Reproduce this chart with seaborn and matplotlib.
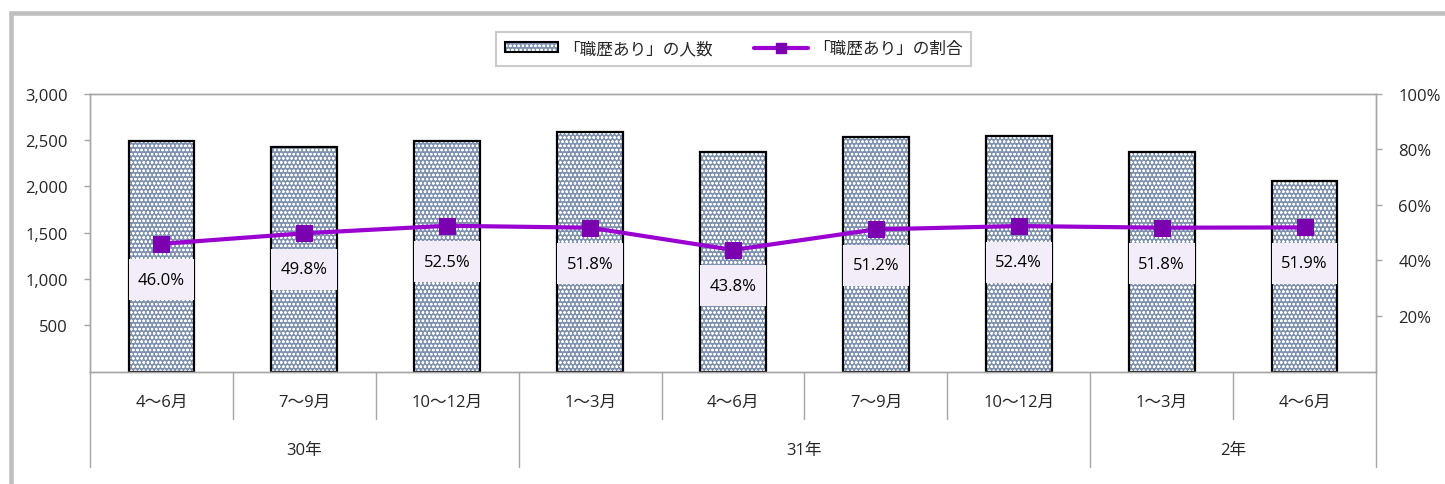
import numpy as np
import pandas as pd
import matplotlib
matplotlib.use('Agg')
import matplotlib.pyplot as plt
import seaborn as sns
from matplotlib.patches import Rectangle, Patch
from matplotlib.lines import Line2D
from matplotlib.legend_handler import HandlerTuple
from matplotlib.ticker import FuncFormatter

# ---- data ----
periods = ['4～6月', '7～9月', '10～12月', '1～3月', '4～6月', '7～9月', '10～12月', '1～3月', '4～6月']
years = ['30年', '31年', '2年']
year_spans = [3, 4, 2]
counts = [2490, 2425, 2487, 2591, 2371, 2537, 2544, 2368, 2055]
ratios = [46.0, 49.8, 52.5, 51.8, 43.8, 51.2, 52.4, 51.8, 51.9]
count_ticks = [500, 1000, 1500, 2000, 2500, 3000]
ratio_ticks = [20, 40, 60, 80, 100]
legend_labels = ['「職歴あり」の人数', '「職歴あり」の割合']

# ---- style ----
sns.set_theme(style='white')
plt.rcParams['font.family'] = ['Open Sans', 'Noto Sans CJK JP', 'DejaVu Sans']
plt.rcParams['hatch.linewidth'] = 0.6

BAR_FACE = '#7e91ae'
HATCH = 'oooo'
LINE_C = '#9a00d0'
MARK_C = '#7a00b0'
GRID_C = '#a6a6a6'
BOX_C = '#f3ecf9'
FS = 12

W, H = 1445, 485
fig = plt.figure(figsize=(W / 100, H / 100), dpi=100)
ax = fig.add_axes([90 / W, 1 - 372.6 / H, (1376 - 90) / W, (372.6 - 94.8) / H])

df = pd.DataFrame({'idx': range(len(counts)), 'count': counts, 'ratio': ratios})

# bars: hatched fill then black outline
sns.barplot(data=df, x='idx', y='count', ax=ax, width=0.46, color=BAR_FACE,
            saturation=1, errorbar=None, hatch=HATCH, edgecolor='white', linewidth=0)
sns.barplot(data=df, x='idx', y='count', ax=ax, width=0.46, color='black',
            fill=False, errorbar=None, linewidth=1.6)

ax.set_xlim(-0.5, len(counts) - 0.5)
ax.set_ylim(0, 3000)
ax.set_yticks(count_ticks)
ax.yaxis.set_major_formatter(FuncFormatter(lambda v, p: f'{int(v):,}'))
ax.set_xticks([])
ax.set_xlabel('')
ax.set_ylabel('')
ax.tick_params(axis='y', direction='out', length=4, color=GRID_C, width=1,
               pad=12, labelsize=FS, left=True)

ax2 = ax.twinx()
sns.lineplot(data=df, x='idx', y='ratio', ax=ax2, color=LINE_C, linewidth=3,
             marker='s', markersize=12, markerfacecolor=MARK_C, markeredgecolor=MARK_C,
             zorder=5)
ax2.set_ylim(0, 100)
ax2.set_yticks(ratio_ticks)
ax2.yaxis.set_major_formatter(FuncFormatter(lambda v, p: f'{int(v)}%'))
ax2.set_xlim(-0.5, len(counts) - 0.5)
ax2.set_xlabel('')
ax2.set_ylabel('')
ax2.tick_params(axis='y', direction='out', length=4, color=GRID_C, width=1,
                pad=12, labelsize=FS, right=True)

for a in (ax, ax2):
    for s in a.spines.values():
        s.set_color(GRID_C)
        s.set_linewidth(1)
        s.set_visible(True)

# data label boxes
box_h = 41 / 277.8 * 100
box_off = 36 / 277.8 * 100
for i, r in enumerate(ratios):
    cy = r - box_off
    ax2.add_patch(Rectangle((i - 0.23, cy - box_h / 2), 0.46, box_h,
                            facecolor=BOX_C, edgecolor='none', zorder=3))
    ax2.text(i, cy, f'{r:.1f}%', ha='center', va='center', fontsize=FS, zorder=4,
             color='black')

# multi-level category axis
tr = ax.get_xaxis_transform()
row1 = -0.1706
row2 = -0.343
n = len(periods)
year_bounds = list(np.cumsum([0] + year_spans) - 0.5)
for b in np.arange(n + 1) - 0.5:
    bottom = row2 if any(abs(b - yb) < 1e-9 for yb in year_bounds) else row1
    ax.plot([b, b], [0, bottom], transform=tr, clip_on=False, color=GRID_C, lw=1)
for i, lab in enumerate(periods):
    ax.text(i, -0.1094, lab, transform=tr, ha='center', va='center', fontsize=FS)
start = 0
for yl, sp in zip(years, year_spans):
    ax.text(start + sp / 2 - 0.5, -0.282, yl, transform=tr, ha='center', va='center',
            fontsize=FS)
    start += sp

# legend
h_bar = (Patch(facecolor=BAR_FACE, hatch=HATCH, edgecolor='white', linewidth=0),
         Patch(fill=False, edgecolor='black', linewidth=1.5))
h_line = Line2D([], [], color=LINE_C, lw=3, marker='s', markersize=7,
                markerfacecolor=MARK_C, markeredgecolor=MARK_C)
leg = fig.legend([h_bar, h_line], legend_labels, loc='center',
                 bbox_to_anchor=(733.5 / W, 1 - 50 / H), ncol=2, frameon=True,
                 fancybox=False, edgecolor='#bfbfbf', fontsize=FS,
                 handler_map={tuple: HandlerTuple(ndivide=1, pad=0)},
                 handlelength=3.2, handleheight=0.5, handletextpad=0.3,
                 columnspacing=2.5, borderpad=0.55, borderaxespad=0)
leg.get_frame().set_linewidth(1.5)

# outer frame
fig.patches.append(Rectangle((10.5 / W, -0.1), 2, 1.1 - 13.5 / H, transform=fig.transFigure,
                             fill=False, edgecolor='#bfbfbf', linewidth=3.3))

fig.savefig('out.png', dpi=100)
